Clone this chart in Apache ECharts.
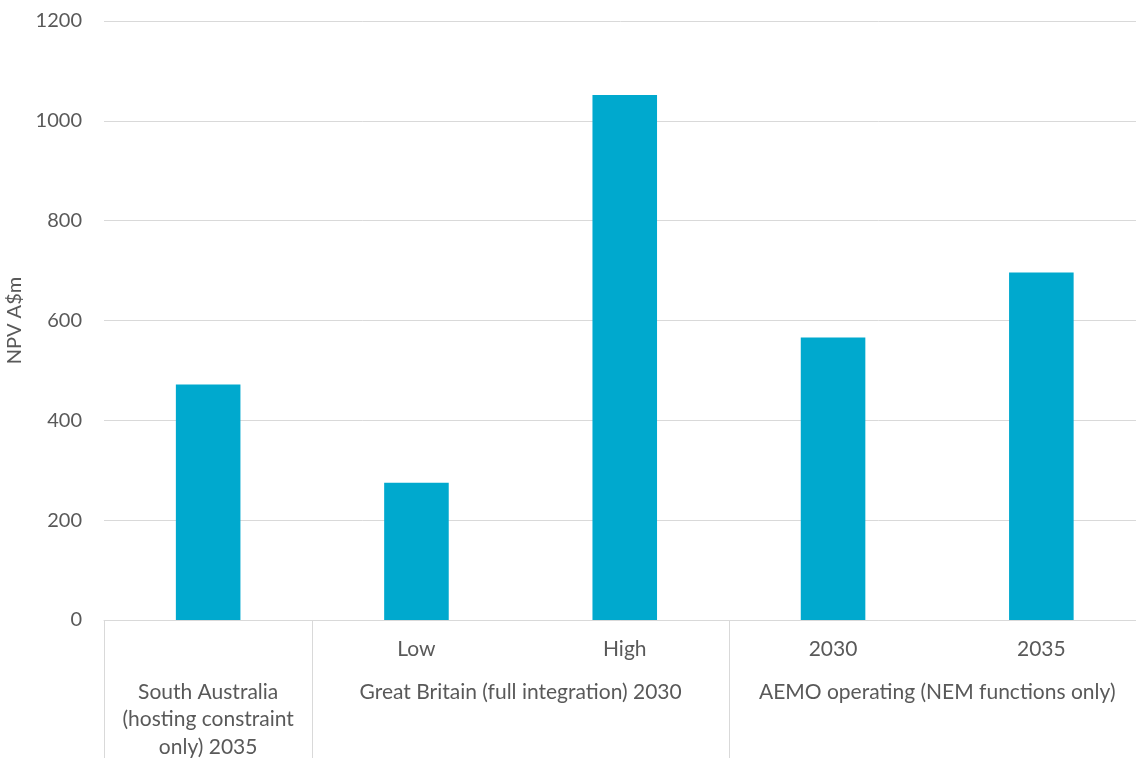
<!DOCTYPE html>
<html>
<head>
<meta charset="utf-8">
<script src="https://cdn.jsdelivr.net/npm/echarts@6/dist/echarts.min.js"></script>
<style>
  html, body { margin: 0; padding: 0; background: #fff; }
  #chart { width: 1136px; height: 758px; }
</style>
</head>
<body>
<div id="chart"></div>
<script>
// sub-category labels (first row under the axis)
var categories = ['', 'Low', 'High', '2030', '2035'];
// group labels and where they sit (in category units, 0..5)
var groupNames = ['South Australia\n(hosting constraint\nonly) 2035', 'Great Britain (full integration) 2030', 'AEMO operating (NEM functions only)'];
var groupCenters = [0.5, 2, 4];
// index of the categories that start a group
var groupStarts = [0, 1, 3];
// NPV A$m
var npvValues = [472, 275, 1052, 566, 696];
var yTicks = [0, 200, 400, 600, 800, 1000, 1200];

var textColor = '#595959';
var lineColor = '#d9d9d9';
var font = 'Lato';

var chart = echarts.init(document.getElementById('chart'));
var option = {
  animation: false,
  grid: {
    left: 104,
    top: 21,
    width: 1041.5,
    height: 599,
    outerBoundsMode: 'none'
  },
  xAxis: [
    {
      type: 'category',
      data: categories,
      axisLine: { lineStyle: { color: lineColor, width: 1 } },
      axisTick: {
        show: true,
        length: 138,
        interval: function (index) {
          return groupStarts.indexOf(index) >= 0;
        },
        lineStyle: { color: lineColor, width: 1 }
      },
      axisLabel: {
        color: textColor,
        fontFamily: font,
        fontSize: 21,
        margin: 19,
        interval: 0
      }
    },
    {
      type: 'value',
      position: 'bottom',
      min: 0,
      max: 5,
      interval: 0.5,
      axisLine: { show: false },
      axisTick: { show: false },
      splitLine: { show: false },
      axisLabel: {
        color: textColor,
        fontFamily: font,
        fontSize: 21,
        lineHeight: 27.5,
        margin: 58,
        align: 'center',
        formatter: function (v) {
          var i = groupCenters.indexOf(v);
          return i >= 0 ? groupNames[i] : '';
        }
      }
    }
  ],
  yAxis: {
    type: 'value',
    min: yTicks[0],
    max: yTicks[yTicks.length - 1],
    interval: 200,
    name: 'NPV A$m',
    nameLocation: 'middle',
    nameGap: 74,
    nameTextStyle: { color: textColor, fontFamily: font, fontSize: 20 },
    axisLine: { show: false },
    axisTick: { show: false },
    splitLine: { lineStyle: { color: lineColor, width: 1 } },
    axisLabel: {
      color: textColor,
      fontFamily: font,
      fontSize: 20,
      margin: 22,
      formatter: function (v) { return String(v); }
    }
  },
  series: [
    {
      name: 'NPV',
      type: 'bar',
      xAxisIndex: 0,
      data: npvValues,
      barWidth: '31%',
      itemStyle: { color: '#00A9CE' }
    }
  ]
};
chart.setOption(option);
</script>
</body>
</html>
